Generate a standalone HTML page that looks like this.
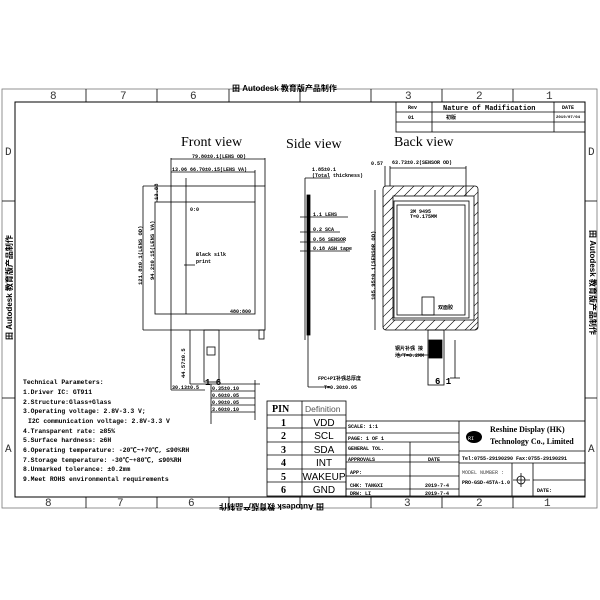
<!DOCTYPE html>
<html><head><style>
body{margin:0;background:#fff}
svg{display:block;font-family:"Liberation Mono","Noto Sans CJK SC",monospace}
.b{font-weight:bold}
</style></head><body>
<svg width="600" height="600" viewBox="0 0 600 600" xmlns="http://www.w3.org/2000/svg">
<g fill="none" stroke="#000" stroke-width="0.8">
<rect x="2" y="89" width="595" height="419" stroke="#777"/>
<rect x="15" y="102" width="570" height="395" stroke-width="1"/>
<line x1="86" y1="89" x2="86" y2="102"/><line x1="157" y1="89" x2="157" y2="102"/><line x1="229" y1="89" x2="229" y2="102"/><line x1="300" y1="89" x2="300" y2="102"/><line x1="371" y1="89" x2="371" y2="102"/><line x1="442" y1="89" x2="442" y2="102"/><line x1="513" y1="89" x2="513" y2="102"/>
<line x1="86" y1="497" x2="86" y2="508"/><line x1="157" y1="497" x2="157" y2="508"/><line x1="229" y1="497" x2="229" y2="508"/><line x1="300" y1="497" x2="300" y2="508"/><line x1="371" y1="497" x2="371" y2="508"/><line x1="442" y1="497" x2="442" y2="508"/><line x1="513" y1="497" x2="513" y2="508"/>
<line x1="2" y1="201" x2="15" y2="201"/><line x1="585" y1="201" x2="597" y2="201"/>
<line x1="2" y1="398" x2="15" y2="398"/><line x1="585" y1="398" x2="597" y2="398"/>
<rect x="396" y="102" width="189" height="30"/><line x1="396" y1="112" x2="585" y2="112"/><line x1="396" y1="122" x2="585" y2="122"/>
<line x1="432" y1="102" x2="432" y2="132"/><line x1="554" y1="102" x2="554" y2="132"/>
<rect x="171" y="186" width="94" height="144"/>
<rect x="155" y="202" width="100" height="112"/>
<line x1="143" y1="186" x2="171" y2="186"/><line x1="143" y1="186" x2="143" y2="330"/><line x1="143" y1="330" x2="171" y2="330"/>
<line x1="186" y1="178" x2="186" y2="314"/>
<line x1="171" y1="158" x2="171" y2="186"/><line x1="265" y1="158" x2="265" y2="186"/><line x1="171" y1="159" x2="265" y2="159"/>
<line x1="171" y1="172" x2="255" y2="172"/><line x1="255" y1="170" x2="255" y2="202"/>
<line x1="157" y1="186" x2="157" y2="202"/>
<rect x="259" y="330" width="5" height="9"/>
<rect x="204" y="330" width="15" height="52"/>
<rect x="207" y="347" width="8" height="8"/>
<line x1="190" y1="330" x2="190" y2="384"/><line x1="190" y1="384" x2="260" y2="384"/>
<line x1="171" y1="330" x2="171" y2="390"/><line x1="171" y1="390" x2="205" y2="390"/>
<line x1="211" y1="384" x2="211" y2="424"/><line x1="255" y1="380" x2="255" y2="420"/>
<line x1="211" y1="391" x2="255" y2="391"/><line x1="211" y1="398" x2="255" y2="398"/><line x1="211" y1="405" x2="255" y2="405"/><line x1="211" y1="412" x2="255" y2="412"/>
<line x1="184" y1="265" x2="195" y2="265"/>
<line x1="305" y1="178" x2="305" y2="340"/>
<rect x="307" y="195" width="3" height="140" fill="#000"/>
<line x1="305" y1="178" x2="330" y2="178"/>
<line x1="300" y1="217" x2="348" y2="217"/><line x1="300" y1="232" x2="340" y2="232"/><line x1="300" y1="242" x2="345" y2="242"/><line x1="300" y1="251" x2="350" y2="251"/>
<line x1="308" y1="335" x2="308" y2="387"/><line x1="308" y1="387" x2="330" y2="387"/>
<rect x="383" y="186" width="95" height="144" rx="3"/>
<rect x="393" y="196" width="81" height="124"/>
<rect x="394" y="201" width="75" height="117"/>
<rect x="397" y="205" width="68" height="110"/>
<rect x="422" y="297" width="12" height="18"/>
<line x1="385" y1="166" x2="385" y2="186"/><line x1="390" y1="166" x2="390" y2="186"/><line x1="466" y1="166" x2="466" y2="196"/><line x1="390" y1="168" x2="466" y2="168"/>
<line x1="375" y1="190" x2="375" y2="330"/>
<rect x="428" y="330" width="16" height="55"/>
<rect x="429" y="340" width="13" height="18" fill="#000"/>
<line x1="398" y1="355" x2="429" y2="355"/><line x1="455" y1="340" x2="455" y2="378"/>
<line x1="450" y1="378" x2="460" y2="378"/>
<clipPath id="h"><path d="M383 186h95v144h-95z M393 196v124h81v-124z" clip-rule="evenodd"/></clipPath>
<g clip-path="url(#h)" stroke-width="0.6">
<path d="M370 210l30-30M380 210l30-30M390 210l30-30M400 210l30-30M410 210l30-30M420 210l30-30M430 210l30-30M440 210l30-30M450 210l30-30M460 210l30-30M470 210l30-30"/>
<path d="M370 345l30-30M380 345l30-30M390 345l30-30M400 345l30-30M410 345l30-30M420 345l30-30M430 345l30-30M440 345l30-30M450 345l30-30M460 345l30-30M470 345l30-30"/>
<path d="M380 210l15-15M380 220l15-15M380 230l15-15M380 240l15-15M380 250l15-15M380 260l15-15M380 270l15-15M380 280l15-15M380 290l15-15M380 300l15-15M380 310l15-15M380 320l15-15M380 330l15-15"/>
<path d="M470 210l10-10M470 220l10-10M470 230l10-10M470 240l10-10M470 250l10-10M470 260l10-10M470 270l10-10M470 280l10-10M470 290l10-10M470 300l10-10M470 310l10-10M470 320l10-10M470 330l10-10"/>
</g>
<rect x="267" y="401" width="79" height="95"/>
<line x1="302" y1="401" x2="302" y2="496"/>
<line x1="267" y1="415" x2="346" y2="415"/><line x1="267" y1="428" x2="346" y2="428"/><line x1="267" y1="442" x2="346" y2="442"/><line x1="267" y1="455" x2="346" y2="455"/><line x1="267" y1="469" x2="346" y2="469"/><line x1="267" y1="482" x2="346" y2="482"/>
<rect x="346" y="421" width="239" height="75"/>
<line x1="459" y1="421" x2="459" y2="496"/>
<line x1="346" y1="433" x2="459" y2="433"/><line x1="346" y1="442" x2="459" y2="442"/><line x1="346" y1="455" x2="459" y2="455"/><line x1="346" y1="462" x2="459" y2="462"/><line x1="346" y1="476" x2="459" y2="476"/><line x1="346" y1="489" x2="459" y2="489"/>
<line x1="410" y1="442" x2="410" y2="496"/>
<line x1="459" y1="451" x2="585" y2="451"/><line x1="459" y1="463" x2="585" y2="463"/>
<line x1="512" y1="463" x2="512" y2="496"/><line x1="533" y1="463" x2="533" y2="496"/><line x1="533" y1="480" x2="585" y2="480"/>
<circle cx="521" cy="480" r="4"/><line x1="513" y1="480" x2="530" y2="480"/><line x1="521" y1="473" x2="521" y2="487"/>
</g>
<g font-size="11" fill="#333">
<text x="50" y="99">8</text><text x="120" y="99">7</text><text x="190" y="99">6</text><text x="405" y="99">3</text><text x="476" y="99">2</text><text x="546" y="99">1</text>
<text x="45" y="506">8</text><text x="117" y="506">7</text><text x="188" y="506">6</text><text x="404" y="506">3</text><text x="476" y="506">2</text><text x="544" y="506">1</text>
<text x="5" y="155">D</text><text x="588" y="155">D</text><text x="5" y="452">A</text><text x="588" y="452">A</text>
</g>
<text x="232" y="91" font-size="8" class="b" font-family="Liberation Sans,Noto Sans CJK SC,sans-serif">田 Autodesk 教育版产品制作</text>
<text x="230" y="508" font-size="8" class="b" transform="rotate(180 277 506)" font-family="Liberation Sans,Noto Sans CJK SC,sans-serif">田 Autodesk 教育版产品制作</text>
<text x="12" y="340" font-size="8" class="b" transform="rotate(-90 12 340)" font-family="Liberation Sans,Noto Sans CJK SC,sans-serif">田 Autodesk 教育版产品制作</text>
<text x="590" y="230" font-size="8" class="b" transform="rotate(90 590 230)" font-family="Liberation Sans,Noto Sans CJK SC,sans-serif">田 Autodesk 教育版产品制作</text>
<g font-family="Liberation Serif,serif" font-size="14">
<text x="181" y="146">Front view</text><text x="286" y="148">Side view</text><text x="394" y="146">Back view</text>
</g>
<g font-size="5" class="b">
<text x="408" y="109">Rev</text><text x="443" y="110" font-size="7">Nature of Madification</text><text x="562" y="109">DATE</text>
<text x="408" y="119">01</text><text x="446" y="119">初版</text><text x="556" y="118" font-size="4">2019/07/04</text>
<text x="192" y="158">79.80±0.1(LENS OD)</text><text x="172" y="171">13.06  66.70±0.15(LENS VA)</text>
<text x="190" y="211">0:0</text><text x="196" y="256">Black silk</text><text x="196" y="263">print</text><text x="230" y="313">480:800</text>
<text x="312" y="171">1.85±0.1</text><text x="312" y="177">(Total thickness)</text>
<text x="313" y="216">1.1 LENS</text><text x="313" y="231">0.2 SCA</text><text x="313" y="241">0.56 SENSOR</text><text x="313" y="250">0.18 ASH tape</text>
<text x="371" y="165">0.57</text><text x="392" y="164">63.73±0.2(SENSOR OD)</text>
<text x="410" y="213">3M 9495</text><text x="410" y="218">T=0.175MM</text><text x="438" y="309">双面胶</text>
<text x="395" y="350">钢片补强 接</text><text x="395" y="357">地/T=0.2MM</text>
<text x="318" y="380">FPC+PI补强总厚度</text><text x="324" y="389">T=0.30±0.05</text>
<text x="172" y="389">30.13±0.5</text><text x="212" y="390">0.35±0.10</text><text x="212" y="397">0.60±0.05</text><text x="212" y="404">0.90±0.05</text><text x="212" y="411">3.60±0.10</text>
<text x="348" y="428">SCALE: 1:1</text><text x="348" y="440">PAGE: 1 OF 1</text><text x="348" y="450">GENERAL TOL.</text><text x="348" y="461">APPROVALS</text><text x="350" y="474">APP:</text><text x="350" y="487">CHK: TANGXI</text><text x="350" y="495">DRW: LI</text><text x="428" y="461">DATE</text><text x="425" y="487">2019-7-4</text><text x="425" y="495">2019-7-4</text>
<text x="462" y="460">Tel:0755-29190290  Fax:0755-29190291</text><text x="462" y="484">PRO-GSD-45TA-1.0</text><text x="537" y="492">DATE:</text>
</g>
<g font-size="5.5" class="b">
<text transform="translate(142,285) rotate(-90)">121.8±0.1(LENS OD)</text>
<text transform="translate(154,280) rotate(-90)">94.2±0.15(LENS VA)</text>
<text transform="translate(375,300) rotate(-90)">105.95±0.1(SENSOR OD)</text>
<text transform="translate(185,378) rotate(-90)">44.57±0.5</text>
<text transform="translate(158,200) rotate(-90)">13.88</text>
</g>
<text x="205" y="385" font-size="9" class="b">1 6</text><text x="435" y="384" font-size="9" class="b">6 1</text>
<text x="490" y="432" font-size="8" class="b" font-family="Liberation Serif,serif">Reshine Display (HK)</text>
<text x="490" y="444" font-size="8" class="b" font-family="Liberation Serif,serif">Technology Co., Limited</text>
<ellipse cx="474" cy="437" rx="8" ry="6" fill="#000"/><text x="468" y="440" font-size="5" fill="#fff">RI</text>
<text x="462" y="474" font-size="5" fill="#444">MODEL NUMBER :</text>
<g font-family="Liberation Mono,Noto Sans CJK SC,monospace" font-size="6.4" class="b">
<text x="23" y="384">Technical Parameters:</text>
<text x="23" y="394">1.Driver IC: GT911</text>
<text x="23" y="404">2.Structure:Glass+Glass</text>
<text x="23" y="413">3.Operating voltage: 2.8V-3.3 V;</text>
<text x="28" y="423">I2C communication voltage: 2.8V-3.3 V</text>
<text x="23" y="433">4.Transparent rate: ≥85%</text>
<text x="23" y="442">5.Surface hardness: ≥6H</text>
<text x="23" y="452">6.Operating temperature: -20℃~+70℃, ≤90%RH</text>
<text x="23" y="462">7.Storage temperature: -30℃~+80℃, ≤90%RH</text>
<text x="23" y="471">8.Unmarked tolerance: ±0.2mm</text>
<text x="23" y="481">9.Meet ROHS environmental requirements</text>
</g>
<g font-size="10">
<text x="272" y="412" font-family="Liberation Serif,serif" class="b">PIN</text><text x="305" y="412" font-size="8.5" fill="#555" font-family="Liberation Sans,sans-serif">Definition</text>
<g font-family="Liberation Serif,serif" class="b"><text x="281" y="426">1</text><text x="281" y="439">2</text><text x="281" y="453">3</text><text x="281" y="466">4</text><text x="281" y="480">5</text><text x="281" y="493">6</text></g>
<g font-family="Liberation Sans,sans-serif" text-anchor="middle"><text x="324" y="426">VDD</text><text x="324" y="439">SCL</text><text x="324" y="453">SDA</text><text x="324" y="466">INT</text><text x="324" y="480">WAKEUP</text><text x="324" y="493">GND</text></g>
</g>
</svg>
</body></html>
